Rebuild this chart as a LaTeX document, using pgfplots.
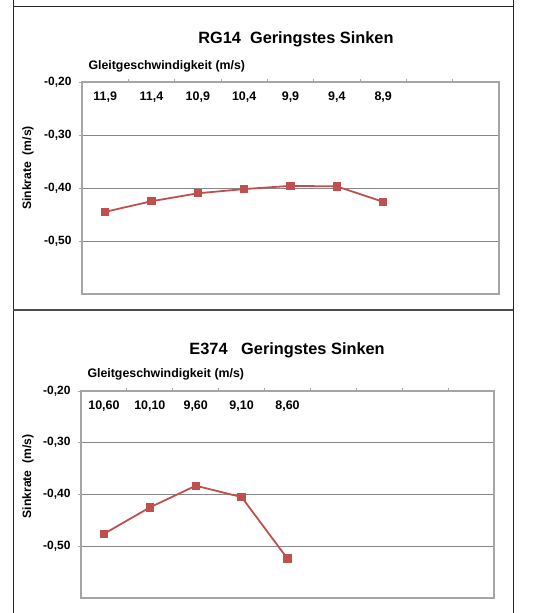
\documentclass[border=0pt]{standalone}
\usepackage{pgfplots}
\pgfplotsset{compat=1.18}
\usepackage{fontspec}
\setmainfont{Liberation Sans}

\definecolor{serieRed}{RGB}{192,80,77}
\definecolor{gridGray}{RGB}{135,135,135}
\definecolor{boxGray}{RGB}{165,165,165}

\pgfplotsset{
  sinkstyle/.style={
    scale only axis,
    axis line style={boxGray, line width=1.2bp},
    xmin=0.5, xmax=9.5,
    ymin=-0.6, ymax=-0.2,
    ytick={-0.5,-0.4,-0.3,-0.2},
    ymajorgrids,
    major grid style={gridGray, line width=0.9bp},
    ytick pos=left,
    xtick pos=upper,
    xticklabel pos=upper,
    xtick={1,...,9},
    major x tick style={draw=none},
    minor xtick={1.5,2.5,...,8.5},
    minor x tick style={boxGray, line width=0.8bp},
    minor tick length=3bp,
    major tick length=3bp,
    y tick style={boxGray, line width=0.8bp},
    tick align=outside,
    /pgf/number format/.cd, fixed, fixed zerofill, precision=2, use comma, assume math mode=true,
    /pgfplots/.cd,
    yticklabel style={font=\bfseries\fontsize{12}{12}\selectfont, xshift=-4bp},
    xticklabel style={font=\bfseries\fontsize{12.5}{13}\selectfont, anchor=center, yshift=-18bp},
    ylabel style={font=\bfseries\fontsize{12.2}{12}\selectfont},
    xlabel style={font=\bfseries\fontsize{12.4}{13}\selectfont},
    title style={font=\bfseries\fontsize{16.4}{17}\selectfont, anchor=center},
  },
  sinkline/.style={serieRed, line width=1.8bp, mark=square*, mark size=3.3bp,
    mark options={serieRed, solid}},
}

\begin{document}
\begin{tikzpicture}
  \useasboundingbox (0bp,0bp) rectangle (543bp,613bp);

  % panel frames
  \draw[black!85, line width=1bp] (13bp,613bp) -- (13bp,606bp) -- (513bp,606bp) -- (513bp,613bp);
  \draw[black!85, line width=1bp] (13bp,606bp) -- (13bp,0bp);
  \draw[black!85, line width=1bp] (513bp,606bp) -- (513bp,0bp);
  \draw[black!70, line width=1.5bp] (13bp,303bp) -- (513bp,303bp);

  % RG14
  \begin{axis}[sinkstyle,
      at={(82bp,319bp)}, anchor=south west,
      width=417bp, height=212bp,
      xticklabels={{11,9},{11,4},{10,9},{10,4},{9,9},{9,4},{8,9},{},{}},
      title={RG14\ \ Geringstes Sinken},
      title style={at={(0.513,1)}, yshift=37bp},
      xlabel={Gleitgeschwindigkeit (m/s)},
      xlabel style={at={(axis description cs:0,1)}, anchor=west, xshift=3bp, yshift=16bp},
      ylabel={Sinkrate\ \ (m/s)},
      ylabel style={at={(axis description cs:0,0.5)}, anchor=center, yshift=54bp, xshift=20bp},
    ]
    \addplot[sinkline] coordinates {
      (1,-0.445) (2,-0.425) (3,-0.410) (4,-0.402) (5,-0.396) (6,-0.397) (7,-0.426)
    };
  \end{axis}

  % E374
  \begin{axis}[sinkstyle,
      at={(81bp,15bp)}, anchor=south west,
      width=413bp, height=207bp,
      xticklabels={{10,60},{10,10},{9,60},{9,10},{8,60},{},{},{},{}},
      title={E374\ \ \ Geringstes Sinken},
      title style={at={(0.499,1)}, yshift=35bp},
      xlabel={Gleitgeschwindigkeit (m/s)},
      xlabel style={at={(axis description cs:0,1)}, anchor=west, xshift=3bp, yshift=17bp},
      ylabel={Sinkrate\ \ (m/s)},
      ylabel style={at={(axis description cs:0,0.5)}, anchor=center, yshift=53bp, xshift=18bp},
    ]
    \addplot[sinkline] coordinates {
      (1,-0.476) (2,-0.425) (3,-0.383) (4,-0.405) (5,-0.524)
    };
  \end{axis}
\end{tikzpicture}
\end{document}
